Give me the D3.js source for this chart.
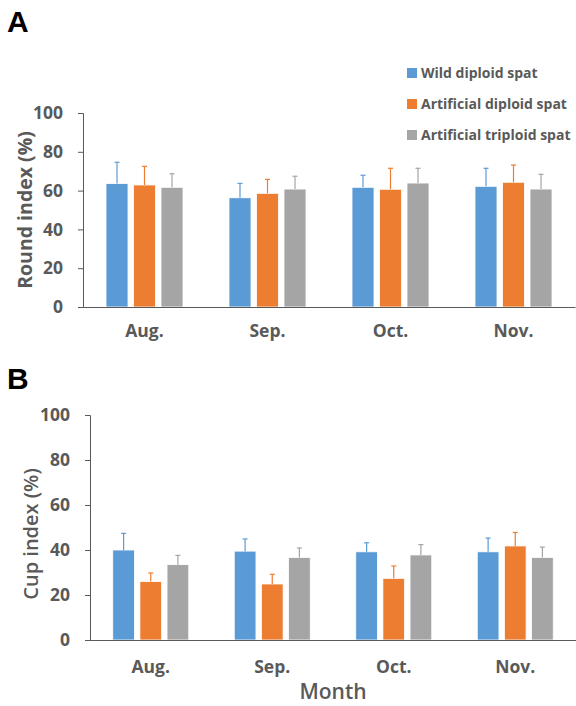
<!DOCTYPE html>
<html><head><meta charset="utf-8">
<script src="https://cdn.jsdelivr.net/npm/d3@7"></script>
<style>body{margin:0;background:#fff}svg{display:block}</style>
</head><body>
<svg id="c" width="576" height="706"></svg>
<script>
const months = ["Aug.", "Sep.", "Oct.", "Nov."];
const series = ["Wild diploid spat", "Artificial diploid spat", "Artificial triploid spat"];
const colors = ["#5B9BD5", "#ED7D31", "#A5A5A5"];
const yTicks = [0, 20, 40, 60, 80, 100];

// Panel A: Round index (%) means and SD, one array per series (Aug..Nov)
const roundWild = [63.6, 56.3, 61.7, 62.2];
const roundArtDip = [62.9, 58.6, 60.7, 64.3];
const roundArtTri = [61.7, 60.8, 63.9, 60.8];
const roundWildSD = [11.0, 7.4, 6.2, 9.3];
const roundArtDipSD = [9.6, 7.2, 10.8, 8.9];
const roundArtTriSD = [7.0, 6.6, 7.6, 7.6];

// Panel B: Cup index (%)
const cupWild = [40.0, 39.5, 39.2, 39.2];
const cupArtDip = [26.0, 24.9, 27.4, 41.8];
const cupArtTri = [33.5, 36.7, 37.8, 36.7];
const cupWildSD = [7.4, 5.4, 4.0, 6.1];
const cupArtDipSD = [3.8, 4.3, 5.5, 6.0];
const cupArtTriSD = [4.1, 4.2, 4.6, 4.6];

const svg = d3.select("#c");
const FONT = "'Open Sans', 'Noto Sans', sans-serif";
const TXT = "#595959";

function panel(o) {
  const x0 = d3.scaleBand().domain(months).range([o.left, o.right]).padding(0);
  const x1 = d3.scaleBand().domain(series).range([0, o.groupW]).paddingInner(0.2).paddingOuter(0);
  const y = d3.scaleLinear().domain([0, 100]).range([o.bottom, o.top]);
  const off = (x0.bandwidth() - o.groupW) / 2;
  const g = svg.append("g");

  const data = [];
  months.forEach((m, i) => series.forEach((s, j) => data.push({m, s, j, v: o.vals[j][i], e: o.sds[j][i]})));

  g.selectAll("rect.bar").data(data).join("rect")
    .attr("x", d => x0(d.m) + off + x1(d.s))
    .attr("y", d => y(d.v))
    .attr("width", x1.bandwidth())
    .attr("height", d => y(0) - y(d.v))
    .attr("fill", d => colors[d.j])
    .attr("stroke", "#fff").attr("stroke-width", 0.8);

  const eb = g.selectAll("g.err").data(data).join("g").attr("stroke", d => colors[d.j]).attr("stroke-width", 1.2);
  eb.append("line")
    .attr("x1", d => x0(d.m) + off + x1(d.s) + x1.bandwidth() / 2)
    .attr("x2", d => x0(d.m) + off + x1(d.s) + x1.bandwidth() / 2)
    .attr("y1", d => y(d.v)).attr("y2", d => y(d.v + d.e));
  eb.append("line")
    .attr("x1", d => x0(d.m) + off + x1(d.s) + x1.bandwidth() / 2 - 2.5)
    .attr("x2", d => x0(d.m) + off + x1(d.s) + x1.bandwidth() / 2 + 2.5)
    .attr("y1", d => y(d.v + d.e)).attr("y2", d => y(d.v + d.e));

  // y axis
  const ya = g.append("g").attr("transform", `translate(${o.left},0)`)
    .call(d3.axisLeft(y).tickValues(yTicks).tickSize(5).tickPadding(o.yPad));
  ya.select(".domain").attr("stroke", "#595959");
  ya.selectAll(".tick line").attr("stroke", "#595959");
  ya.selectAll(".tick text").attr("fill", TXT).attr("font-family", FONT)
    .attr("font-weight", "bold").attr("font-size", o.tickFs);

  // x axis line
  const xa = g.append("g").attr("transform", `translate(0,${o.bottom})`)
    .call(d3.axisBottom(x0).tickSize(0).tickPadding(o.xPad).tickSizeOuter(0));
  xa.select(".domain").attr("stroke", "#595959");
  xa.selectAll(".tick text").attr("fill", TXT).attr("font-family", FONT)
    .attr("font-weight", "bold").attr("font-size", o.xFs);

  // y title
  g.append("text").attr("transform", `translate(${o.yTitleX},${o.yTitleY}) rotate(-90)`)
    .attr("text-anchor", "middle").attr("fill", TXT).attr("font-family", FONT)
    .attr("font-weight", o.yTitleW).attr("font-size", o.yTitleFs).text(o.yTitle);

  // panel letter
  g.append("text").attr("x", 7).attr("y", o.letterY).attr("font-family", "'Liberation Sans', Arial, sans-serif")
    .attr("font-weight", "bold").attr("font-size", 30).attr("fill", "#000").text(o.letter);
}

panel({
  left: 83, right: 575, top: 113, bottom: 307, groupW: 77, yPad: 15,
  vals: [roundWild, roundArtDip, roundArtTri], sds: [roundWildSD, roundArtDipSD, roundArtTriSD],
  tickFs: 17.5, xFs: 17.5, xPad: 18, yTitle: "Round index (%)", yTitleW: "bold", yTitleFs: 19.5,
  yTitleX: 32, yTitleY: 210, letter: "A", letterY: 32
});
panel({
  left: 90, right: 576, top: 415, bottom: 640, groupW: 76, yPad: 15,
  vals: [cupWild, cupArtDip, cupArtTri], sds: [cupWildSD, cupArtDipSD, cupArtTriSD],
  tickFs: 17.5, xFs: 17.5, xPad: 21, yTitle: "Cup index (%)", yTitleW: "600", yTitleFs: 20,
  yTitleX: 38, yTitleY: 534, letter: "B", letterY: 389
});

// x title for B
svg.append("text").attr("x", 333).attr("y", 699).attr("text-anchor", "middle")
  .attr("fill", TXT).attr("font-family", FONT).attr("font-weight", "600").attr("font-size", 21).text("Month");

// legend
const lg = svg.append("g").selectAll("g").data(series).join("g")
  .attr("transform", (d, i) => `translate(407,${68 + i * 31})`);
lg.append("rect").attr("width", 10).attr("height", 10).attr("fill", (d, i) => colors[i]);
lg.append("text").attr("x", 14).attr("y", 10).attr("fill", TXT).attr("font-family", FONT)
  .attr("font-weight", "bold").attr("font-size", 14).text(d => d);
</script>
</body></html>
